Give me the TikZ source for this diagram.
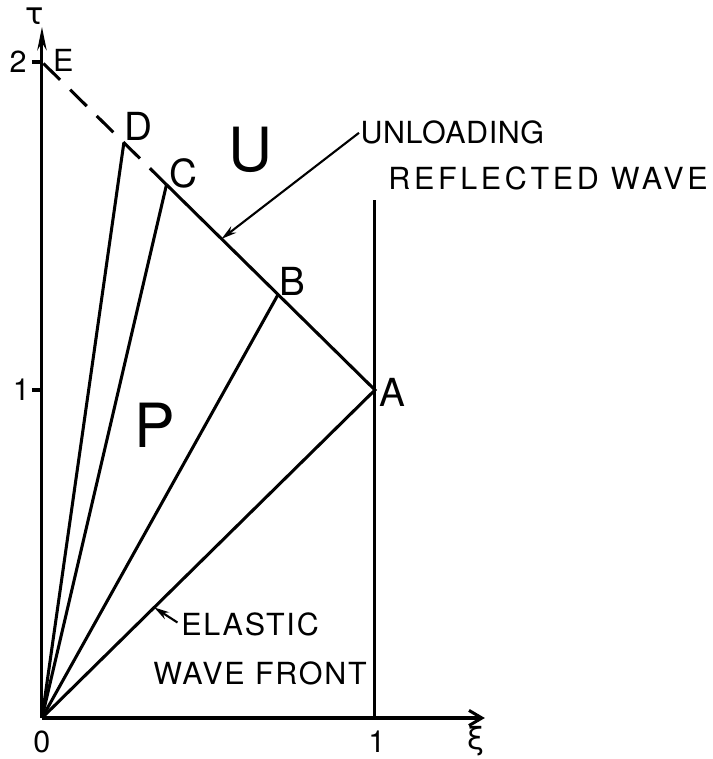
\documentclass[tikz,border=0pt]{standalone}
\usepackage{fontspec}
\setmainfont{TeX Gyre Heros}[LetterSpace=6]
\newfontfamily\grk{DejaVu Sans}
\usetikzlibrary{arrows.meta,calc}

\begin{document}
\begin{tikzpicture}[
  x=9.99cm, y=9.84cm,
  line width=2.6pt,
  pt/.style={font=\fontsize{33}{36}\selectfont},
  lab/.style={font=\fontsize{26}{30}\selectfont},
  region/.style={font=\fontsize{52}{56}\selectfont},
  ar/.style={-{Stealth[length=13pt,width=7pt]}, line width=1.8pt},
]
\useasboundingbox (-0.126,-0.125) rectangle (2.015,2.189);

% points of the xi-tau plane
\coordinate (O) at (0,0);
\coordinate (A) at (1,1);
\coordinate (B) at (0.709,1.291);
\coordinate (C) at (0.374,1.626);
\coordinate (D) at (0.246,1.754);
\coordinate (E) at (0,2);
\coordinate (xiend) at (1.33,0);
\coordinate (tauend) at (0,2.107);
\coordinate (bartop) at (1,1.58);
\coordinate (barbot) at (1,0);

% axes
\draw[-{Stealth[length=20pt,width=8pt]}] (O) -- (tauend);
\draw[-{Straight Barb[length=11pt,width=13pt]}] (O) -- (xiend);
\draw (barbot) -- (bartop);
\draw ($(E)+(-0.03,0)$) -- (E);
\draw ($(O)+(-0.03,1)$) -- ($(O)+(0,1)$);

% wave lines
\draw (O) -- (A) -- (C);
\draw[dash pattern=on 0.7cm off 0.42cm] (C) -- (E);
\draw (O) -- (B);
\draw (O) -- (C);
\draw (O) -- (D);

% letters
\node[pt] (lA) at (1.053,0.994) {A};
\node[pt] (lB) at (0.753,1.33) {B};
\node[pt] (lC) at (0.425,1.66) {C};
\node[pt] (lD) at (0.29,1.803) {D};
\node[lab] (lE) at (0.064,2.006) {E};
\node[region] (lU) at (0.625,1.732) {U};
\node[region] (lP) at (0.339,0.893) {P};

% axis labels
\node[lab] (t2) at (-0.072,2.0) {2};
\node[lab] (t1) at (-0.062,1.0) {1};
\node[lab] (x0) at (0,-0.073) {0};
\node[lab] (x1) at (1.006,-0.073) {1};
\node[lab] (xi) at (1.303,-0.07) {\grk ξ};
\node[lab] (tau) at (-0.021,2.14) {\grk τ};

% notes
\node[lab, anchor=west, inner sep=0pt] (unl) at (0.952,1.784) {\addfontfeature{LetterSpace=2}UNLOADING};
\node[lab, anchor=west, inner sep=0pt] (refl) at (1.036,1.646) {\addfontfeature{LetterSpace=12}REFLECTED WAVE};
\node[lab, anchor=west, inner sep=0pt] (elas) at (0.414,0.284) {ELASTIC};
\node[lab, anchor=west, inner sep=0pt] (front) at (0.330,0.137) {WAVE FRONT};

\draw[ar] (unl.west) -- ($(A)!0.736!(C)$);
\draw[ar] ([xshift=-2pt,yshift=2pt]elas.west) -- ($(O)!0.337!(A)$);

\end{tikzpicture}
\end{document}
